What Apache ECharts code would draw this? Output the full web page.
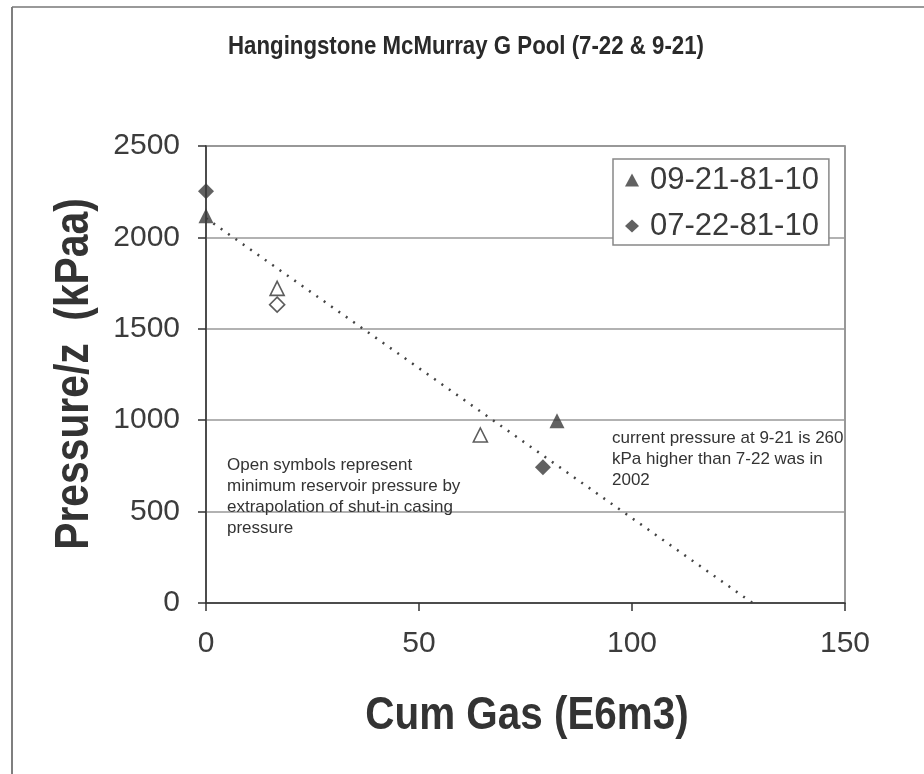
<!DOCTYPE html>
<html>
<head>
<meta charset="utf-8">
<script src="https://cdn.jsdelivr.net/npm/echarts@6/dist/echarts.min.js"></script>
<style>
html,body{margin:0;padding:0;background:#fff;}
#chart{width:924px;height:774px;}
</style>
</head>
<body>
<div id="chart"></div>
<script>
// ---- data ----
const titleText = 'Hangingstone McMurray G Pool (7-22 & 9-21)';
const xAxisName = 'Cum Gas (E6m3)';
const yAxisName = 'Pressure/z  (kPaa)';
const seriesNames = ['09-21-81-10', '07-22-81-10'];
// measured (filled) points [cum gas, pressure/z]
const well0921Filled = [[0, 2118], [82.4, 997]];
const well0722Filled = [[0, 2252], [79.1, 742]];
// extrapolated minimum pressures (open symbols)
const well0921Open = [[16.7, 1721], [64.4, 919]];
const well0722Open = [[16.7, 1632]];
// dotted trend line end points
const trendLine = [[0, 2105], [128.3, 0]];
const xTicks = [0, 50, 100, 150];
const yTicks = [0, 500, 1000, 1500, 2000, 2500];
const note1 = 'Open symbols represent\nminimum reservoir pressure by\nextrapolation of shut-in casing\npressure';
const note2 = 'current pressure at 9-21 is 260\nkPa higher than 7-22 was in\n2002';

const chart = echarts.init(document.getElementById('chart'), null, {renderer: 'canvas'});
const dark = '#333';
const sans = '"Liberation Sans", Arial, sans-serif';

chart.setOption({
  backgroundColor: '#fff',
  animation: false,
  grid: {
    left: 206, right: 79, top: 146, bottom: 171,
    show: true, borderColor: '#777', borderWidth: 1.5, backgroundColor: '#fff'
  },
  legend: {
    orient: 'vertical',
    left: 613, top: 159,
    data: seriesNames,
    backgroundColor: '#fff',
    borderColor: '#888', borderWidth: 1.5, borderRadius: 0,
    padding: [4, 10, 2, 12],
    itemGap: 12,
    itemWidth: 14, itemHeight: 13,
    textStyle: {fontFamily: sans, fontSize: 31, color: '#3a3a3a', lineHeight: 34, padding: [0, 0, 0, 6]}
  },
  xAxis: {
    type: 'value',
    min: xTicks[0], max: xTicks[xTicks.length - 1], interval: 50,
    axisLine: {lineStyle: {color: dark, width: 1.5}},
    axisTick: {show: true, inside: false, length: 8, lineStyle: {color: dark, width: 1.5}},
    axisLabel: {fontFamily: sans, fontSize: 30, color: '#3c3c3c', margin: 26, formatter: v => String(v)},
    splitLine: {show: false}
  },
  yAxis: {
    type: 'value',
    min: yTicks[0], max: yTicks[yTicks.length - 1], interval: 500,
    axisLine: {show: true, lineStyle: {color: dark, width: 1.5}},
    axisTick: {show: true, inside: false, length: 8, lineStyle: {color: dark, width: 1.5}},
    axisLabel: {fontFamily: sans, fontSize: 30, color: '#3c3c3c', margin: 26, formatter: v => String(v)},
    splitLine: {show: true, lineStyle: {color: '#999', width: 1.5}}
  },
  series: [
    {
      name: seriesNames[0], type: 'scatter', symbol: 'triangle', symbolSize: 15,
      itemStyle: {color: '#3a3a3a'}, data: well0921Filled, z: 5
    },
    {
      name: seriesNames[1], type: 'scatter', symbol: 'diamond', symbolSize: 16,
      itemStyle: {color: '#3a3a3a'}, data: well0722Filled, z: 5
    },
    {
      name: 'open0921', type: 'scatter', symbol: 'triangle', symbolSize: 14,
      itemStyle: {color: '#fff', borderColor: '#333', borderWidth: 1.6}, data: well0921Open, z: 5
    },
    {
      name: 'open0722', type: 'scatter', symbol: 'diamond', symbolSize: 15,
      itemStyle: {color: '#fff', borderColor: '#333', borderWidth: 1.6}, data: well0722Open, z: 5
    },
    {
      name: 'trend', type: 'line', data: trendLine, symbol: 'none',
      lineStyle: {color: '#444', width: 2.5, type: [2, 7]}, z: 3
    }
  ],
  graphic: [
    {type: 'line', shape: {x1: 12, y1: 7, x2: 12, y2: 774}, style: {stroke: '#555', lineWidth: 1.5}, silent: true},
    {type: 'line', shape: {x1: 12, y1: 7, x2: 924, y2: 7}, style: {stroke: '#777', lineWidth: 1.5}, silent: true},
    {type: 'text', x: 466, y: 47, scaleX: 0.89,
      style: {text: titleText, x: 0, y: 0, align: 'center', verticalAlign: 'middle',
        font: 'bold 25px "Liberation Sans", Arial, sans-serif', fill: '#2a2a2a'}, z: 10},
    {type: 'text', x: 527, y: 716, scaleX: 0.86,
      style: {text: xAxisName, x: 0, y: 0, align: 'center', verticalAlign: 'middle',
        font: 'bold 47px "Liberation Sans", Arial, sans-serif', fill: '#333'}, z: 10},
    {type: 'text', x: 75, y: 374, rotation: Math.PI / 2, scaleX: 0.85,
      style: {text: yAxisName, x: 0, y: 0, align: 'center', verticalAlign: 'middle',
        font: 'bold 48px "Liberation Sans", Arial, sans-serif', fill: '#333'}, z: 10},
    {type: 'text', left: 227, top: 455, style: {text: note1, font: '17px "Liberation Sans", Arial, sans-serif', fill: '#333', lineHeight: 21}, z: 10},
    {type: 'text', left: 612, top: 428, style: {text: note2, font: '17px "Liberation Sans", Arial, sans-serif', fill: '#333', lineHeight: 21}, z: 10}
  ]
});
</script>
</body>
</html>
